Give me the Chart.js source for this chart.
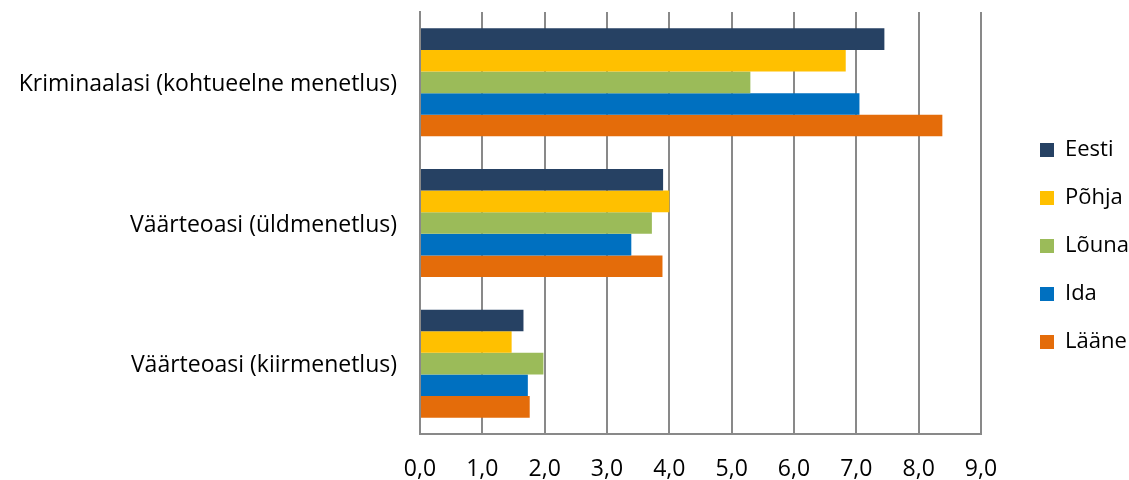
<!DOCTYPE html>
<html lang="et">
<head>
    <meta charset="UTF-8">
    <title>Menetlusajad</title>
    <script src="https://cdn.jsdelivr.net/npm/chart.js"></script>
    <style>
        html, body { margin: 0; padding: 0; background: #fff; }
        #wrap { width: 1129px; height: 480px; }
    </style>
</head>
<body>
    <div id="wrap"><canvas id="caseChart"></canvas></div>

    <script>
        // categories and series
        const categories = ['Kriminaalasi (kohtueelne menetlus)', 'Väärteoasi (üldmenetlus)', 'Väärteoasi (kiirmenetlus)'];
        const seriesNames = ['Eesti', 'Põhja', 'Lõuna', 'Ida', 'Lääne'];
        const eesti = [7.45, 3.90, 1.66];
        const pohja = [6.83, 4.00, 1.47];
        const louna = [5.30, 3.72, 1.98];
        const ida = [7.05, 3.39, 1.73];
        const laane = [8.38, 3.89, 1.76];
        const xTicks = [0, 1, 2, 3, 4, 5, 6, 7, 8, 9];

        const colors = ['#264163', '#FFC000', '#9BBB59', '#0070C0', '#E46C0A'];
        const values = [eesti, pohja, louna, ida, laane];

        const axisFont = { family: 'Open Sans', size: 23 };
        const legendFont = { family: 'Open Sans', size: 22 };
        const gridGrey = '#898989';

        // legend sits further right than chart.js would put it:
        // widen its box so the plot stops at ~981, then move the items back
        const legendSpot = {
            id: 'legendSpot',
            beforeLayout: (chart) => {
                const lg = chart.legend;
                if (lg && !lg._spotted) {
                    const origFit = lg.fit.bind(lg);
                    lg.fit = function () { origFit(); this.width = 148; };
                    lg._spotted = true;
                }
            },
            afterLayout: (chart) => {
                const lg = chart.legend;
                if (lg) {
                    lg.left = 1014;
                    lg.right = lg.left + lg.width;
                }
            }
        };

        const ctx = document.getElementById('caseChart').getContext('2d');

        const caseChart = new Chart(ctx, {
            type: 'bar',
            data: {
                labels: categories,
                datasets: seriesNames.map((name, i) => ({
                    label: name,
                    data: values[i],
                    backgroundColor: colors[i],
                    barPercentage: 1,
                    categoryPercentage: 0.768
                }))
            },
            options: {
                indexAxis: 'y',
                responsive: true,
                maintainAspectRatio: false,
                animation: false,
                layout: { padding: { top: 12, left: 0, right: 0, bottom: 0 } },
                plugins: {
                    tooltip: { enabled: false },
                    legend: {
                        position: 'right',
                        labels: {
                            color: '#000',
                            font: legendFont,
                            boxWidth: 14,
                            boxHeight: 14,
                            padding: 26
                        }
                    }
                },
                scales: {
                    x: {
                        min: 0,
                        max: 9,
                        afterBuildTicks: (axis) => { axis.ticks = xTicks.map(v => ({ value: v })); },
                        afterFit: (axis) => { axis.height = 46; },
                        ticks: {
                            color: '#000',
                            font: axisFont,
                            padding: 22,
                            callback: (v) => Number(v).toFixed(1).replace('.', ',')
                        },
                        grid: { color: gridGrey, lineWidth: 2, drawTicks: false },
                        border: { color: gridGrey, width: 2 }
                    },
                    y: {
                        afterFit: (axis) => {
                            axis.width = 420;
                            axis.paddingTop = 0;
                            axis.paddingBottom = 0;
                        },
                        ticks: { color: '#000', font: axisFont, padding: 23, labelOffset: 2 },
                        grid: { display: false, drawTicks: false },
                        border: { color: gridGrey, width: 2 }
                    }
                }
            },
            plugins: [legendSpot]
        });
    </script>
</body>
</html>
